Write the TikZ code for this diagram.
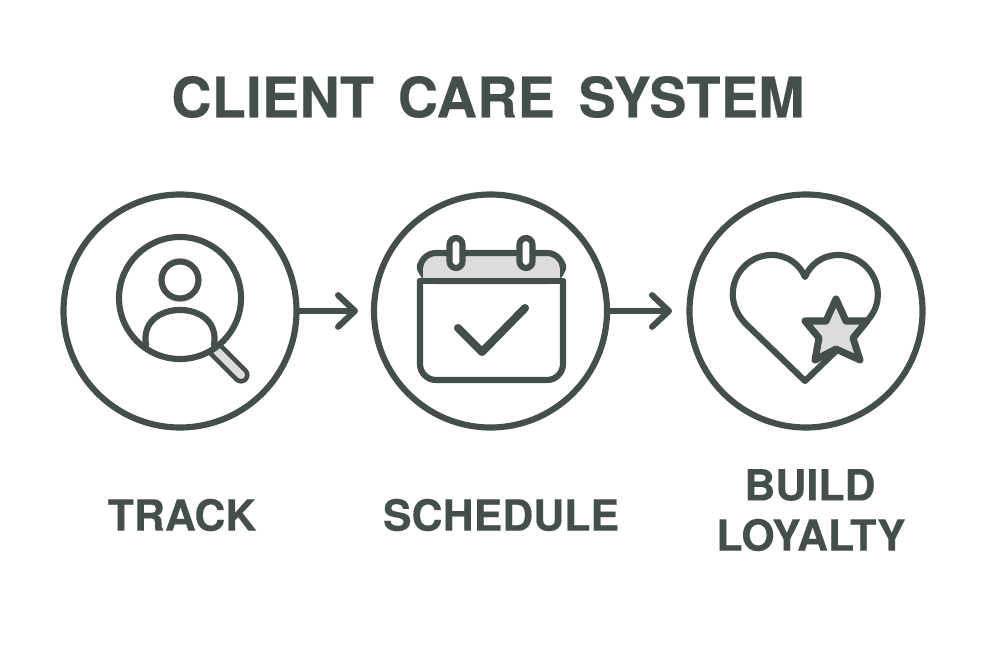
\documentclass[tikz,border=0pt]{standalone}
\usepackage{fontspec}
\setmainfont{TeX Gyre Heros}
\usetikzlibrary{arrows.meta}
\definecolor{inkgreen}{HTML}{454F49}
\definecolor{softgray}{HTML}{DCDCDA}
\setlength{\unitlength}{0.01cm}
\tikzset{
  ring/.style     = {circle, draw=inkgreen, line width=1.75pt, minimum size=233\unitlength, inner sep=0pt},
  icon/.style     = {draw=inkgreen, line width=1.75pt, line join=round, line cap=round},
  flow/.style     = {icon, -{Straight Barb[length=4.8pt, width=9pt, line width=1.75pt, round]}},
  heading/.style  = {text=inkgreen, font=\fontsize{15.8}{20}\bfseries\addfontfeatures{LetterSpace=0.7,FakeBold=0.4}},
  caption/.style  = {text=inkgreen, font=\fontsize{12.2}{14}\bfseries\addfontfeatures{FakeBold=0.3}, align=center}
}
\begin{document}
\begin{tikzpicture}[x=0.01cm, y=-0.01cm]
  \useasboundingbox (0,0) rectangle (1000,667);

  \node [heading] (title) at (488,97) {CLIENT\hspace{6.8pt}CARE\hspace{6.8pt}SYSTEM};

  \node [ring] (track) at (180,311) {};
  \node [ring] (schedule) at (490.5,311) {};
  \node [ring] (loyalty) at (806,311) {};

  \coordinate (trackend) at (358,311);
  \coordinate (scheduleend) at (672,311);
  \draw [flow] (track) -- (trackend);
  \draw [flow] (schedule) -- (scheduleend);

  % magnifier
  \draw [inkgreen, line width=4.9pt, line cap=round] (214,348) -- (241,375);
  \draw [softgray, line width=2.3pt, line cap=round] (217,351) -- (241,375);
  \draw [icon, fill=white] (180,298) circle (61);
  \draw [icon] (180,280) circle (18.5);
  \draw [icon] (146,345) .. controls (142,322) and (160,310) .. (180,310) .. controls (200,310) and (218,322) .. (214,345);

  % calendar
  \draw [icon, fill=softgray, rounded corners=16\unitlength] (420,281) -- (420,253) -- (563,253) -- (563,281) -- cycle;
  \fill [softgray] (423,268) rectangle (560,279);
  \draw [icon, rounded corners=16\unitlength] (420,281) -- (420,380) -- (563,380) -- (563,281);
  \draw [icon] (420,281) -- (563,281);
  \foreach \ringx in {456,526}
    \draw [icon, fill=white!90!softgray, rounded corners=6.5\unitlength] (\ringx-6.5,238) rectangle (\ringx+6.5,268);
  \draw [icon, line width=2.3pt] (458,328) -- (482,352) -- (525,308);

  % heart and star
  \draw [icon] (866,322) -- (805,381) -- (746,324) .. controls (718,296) and (738,255) .. (772,255)
    .. controls (788,255) and (800,265) .. (805,277) .. controls (810,265) and (822,255) .. (838,255)
    .. controls (872,255) and (892,296) .. (866,322);
  \draw [icon, fill=softgray, line width=2pt] (836,299) -- (846,321) -- (867,321) -- (853,338) -- (860,360)
    -- (836,349) -- (815,360) -- (819,338) -- (805,321) -- (826,321) -- cycle;

  \node [caption] (tracklabel) at (182,515) {TRACK};
  \node [caption] (schedulelabel) at (501,515) {SCHEDULE};
  \node [caption] (buildlabel) at (810,485) {BUILD};
  \node [caption] (loyaltylabel) at (811,535) {LOYALTY};
\end{tikzpicture}
\end{document}
